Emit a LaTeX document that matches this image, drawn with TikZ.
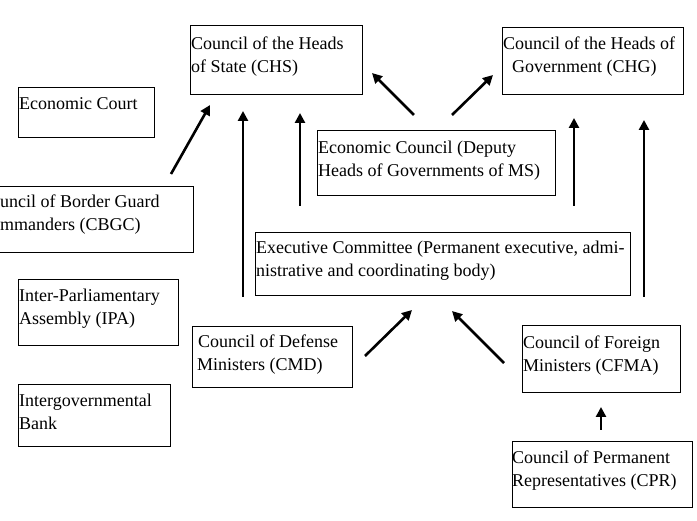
\documentclass[tikz,border=0pt]{standalone}
\usepackage{fontspec}
\setmainfont{Liberation Serif}
\usetikzlibrary{arrows.meta}
\begin{document}
\begin{tikzpicture}[x=1pt,y=-1pt,
  box/.style={draw=black,line width=1.3pt,inner sep=0pt},
  txt/.style={anchor=base west,inner sep=0pt,align=left,font=\fontsize{18}{23}\selectfont},
  arr/.style={line width=2.6pt,-{Triangle[length=10pt,width=10pt]}}]
\useasboundingbox (0,0) rectangle (697,521);
% boxes
\node[box,minimum width=172pt,minimum height=69pt,anchor=north west] (chs) at (190,25) {};
\node[box,minimum width=181pt,minimum height=67pt,anchor=north west] (chg) at (502,27) {};
\node[box,minimum width=136pt,minimum height=50pt,anchor=north west] (ecourt) at (18,87) {};
\node[box,minimum width=238pt,minimum height=65pt,anchor=north west] (econ) at (317,130) {};
\node[box,minimum width=215pt,minimum height=66pt,anchor=north west] (cbgc) at (-22,186) {};
\node[box,minimum width=375pt,minimum height=63pt,anchor=north west] (exec) at (255,232) {};
\node[box,minimum width=160pt,minimum height=66pt,anchor=north west] (ipa) at (18,279) {};
\node[box,minimum width=160pt,minimum height=61pt,anchor=north west] (cmd) at (192,326) {};
\node[box,minimum width=158pt,minimum height=67pt,anchor=north west] (cfma) at (522,325) {};
\node[box,minimum width=152pt,minimum height=62pt,anchor=north west] (bank) at (18,384) {};
\node[box,minimum width=180pt,minimum height=66pt,anchor=north west] (cpr) at (512,441) {};
% texts (anchored at the baseline of the last line)
\node[txt] (chs-t) at (191,72.5) {Council of the Heads\\of State (CHS)};
\node[txt] (chg-t) at (503,73) {Council of the Heads of\\\hspace*{9pt}Government (CHG)};
\node[txt] (ecourt-t) at (19,110) {Economic Court};
\node[txt] (econ-t) at (318,177) {Economic Council (Deputy\\Heads of Governments of MS)};
\node[txt] (cbgc-t) at (-21,231) {Council of Border Guard\\Commanders (CBGC)};
\node[txt] (exec-t) at (256,277) {Executive Committee (Permanent executive, admi-\\nistrative and coordinating body)};
\node[txt] (ipa-t) at (19,325) {Inter-Parliamentary\\Assembly (IPA)};
\node[txt] (cmd-t) at (197,371) {\hspace*{1pt}Council of Defense\\Ministers (CMD)};
\node[txt] (cfma-t) at (523,372) {Council of Foreign\\Ministers (CFMA)};
\node[txt] (bank-t) at (19,430) {Intergovernmental\\Bank};
\node[txt] (cpr-t) at (512,487) {Council of Permanent\\Representatives (CPR)};
% arrow end points
\coordinate (a1s) at (171,174); \coordinate (a1e) at (210,105);
\coordinate (a2s) at (243,297); \coordinate (a2e) at (243,111);
\coordinate (a3s) at (300,206); \coordinate (a3e) at (300,113);
\coordinate (a4s) at (414,115); \coordinate (a4e) at (372,73);
\coordinate (a5s) at (452,115); \coordinate (a5e) at (493,75);
\coordinate (a6s) at (574,206); \coordinate (a6e) at (574,118);
\coordinate (a7s) at (644,297); \coordinate (a7e) at (644,120);
\coordinate (a8s) at (365,356); \coordinate (a8e) at (412,310);
\coordinate (a9s) at (504,363); \coordinate (a9e) at (452,311);
\coordinate (a10s) at (601,430); \coordinate (a10e) at (601,407);
\draw[arr] (a1s) -- (a1e);
\draw[arr] (a2s) -- (a2e);
\draw[arr] (a3s) -- (a3e);
\draw[arr] (a4s) -- (a4e);
\draw[arr] (a5s) -- (a5e);
\draw[arr] (a6s) -- (a6e);
\draw[arr] (a7s) -- (a7e);
\draw[arr] (a8s) -- (a8e);
\draw[arr] (a9s) -- (a9e);
\draw[arr] (a10s) -- (a10e);
\end{tikzpicture}
\end{document}
